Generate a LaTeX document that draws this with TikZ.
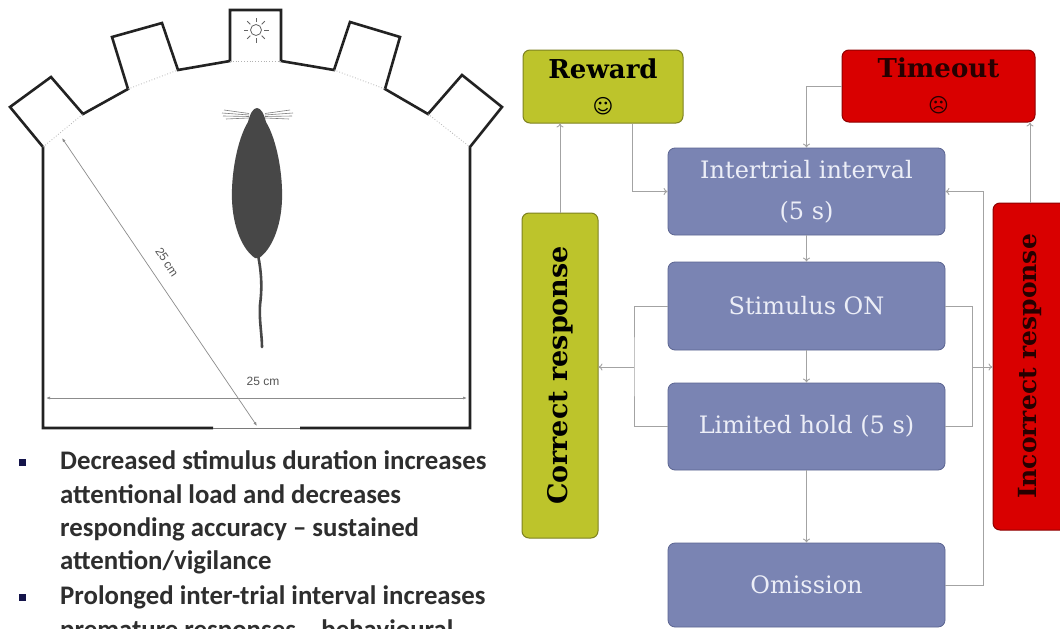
\documentclass[tikz,border=0pt]{standalone}
\usepackage{fontspec}
\usepackage{graphicx}
\usetikzlibrary{arrows.meta,calc}
\newfontfamily\boxfont{DejaVu Serif}
\newfontfamily\bulletfont{Carlito}
\newfontfamily\dimfont{Liberation Sans}
\newfontfamily\symfont{DejaVu Sans}

\definecolor{chamber}{HTML}{222222}
\definecolor{dimgray}{HTML}{8C8C8C}
\definecolor{dimtext}{HTML}{555555}
\definecolor{mousegray}{HTML}{474747}
\definecolor{olive}{HTML}{BDC42B}
\definecolor{olivedark}{HTML}{7E8220}
\definecolor{alarm}{HTML}{D90000}
\definecolor{alarmdark}{HTML}{8F0000}
\definecolor{slate}{HTML}{7A84B3}
\definecolor{slatedark}{HTML}{5C6591}
\definecolor{boxtext}{HTML}{ECEEF7}
\definecolor{flow}{HTML}{A3A3A3}
\definecolor{bullettext}{HTML}{2E2E2E}
\definecolor{bulletmark}{HTML}{14144A}

\begin{document}
\begin{tikzpicture}[x=1pt,y=-1pt,
  wall/.style={draw=chamber,line width=2.6pt,line join=miter},
  portedge/.style={draw=chamber!35,line width=0.8pt,dotted},
  dimline/.style={draw=dimgray,line width=0.7pt,{Latex[length=4pt,width=3pt]}-{Latex[length=4pt,width=3pt]}},
  dimlabel/.style={font=\dimfont\fontsize{12}{14}\selectfont,text=dimtext,fill=white,inner sep=1.5pt},
  stage/.style={draw=slatedark,fill=slate,rounded corners=7pt,line width=0.8pt,
    text=boxtext,font=\boxfont\fontsize{24}{41}\selectfont,align=center,
    minimum width=277pt,inner sep=0pt},
  goodbox/.style={draw=olivedark,fill=olive,rounded corners=7pt,line width=1pt,
    text=black,align=center,inner sep=0pt},
  badbox/.style={draw=alarmdark,fill=alarm,rounded corners=7pt,line width=1pt,
    text=black!85!red,align=center,inner sep=0pt},
  flowline/.style={draw=flow,line width=0.9pt},
  flowarrow/.style={flowline,-{To[length=4pt,width=7pt]}},
  bulletline/.style={anchor=base west,inner sep=0pt,text=bullettext,
    font=\bulletfont\bfseries\fontsize{26.8}{33}\selectfont},
  bulletsquare/.style={fill=bulletmark,minimum size=7pt,inner sep=0pt}
]
\useasboundingbox (0,0) rectangle (1060,629);
\fill[white] (0,0) rectangle (1060,629);
\clip (0,0) rectangle (1060,629);

% ---------- operant chamber with five apertures ----------
\draw[wall] (213,428) -- (43,428) -- (43,147) -- (10,107) -- (51,77) -- (83,114)
  -- (128,89) -- (112,37) -- (162,23) -- (178,70) -- (230,61) -- (230,10)
  -- (281,10) -- (281,61) -- (334,70) -- (350,22) -- (400,37) -- (385,89)
  -- (428,114) -- (462,75) -- (502,107) -- (470,147) -- (470,428) -- (300,428);
\draw[draw=chamber!60,line width=1pt] (213,428) -- (300,428);
\draw[portedge] (43,147) -- (83,114);
\draw[portedge] (128,89) -- (178,70);
\draw[portedge] (230,61) -- (281,61);
\draw[portedge] (334,70) -- (385,89);
\draw[portedge] (428,114) -- (470,147);

% lit aperture
\draw[chamber!70,line width=0.8pt] (256,30) circle (5.5pt);
\foreach \a in {0,45,...,315}
  \draw[chamber!70,line width=0.8pt] ($(256,30)+(\a:8)$) -- ($(256,30)+(\a:12.5)$);

% rat seen from above
\fill[mousegray] (257,108) .. controls (261,108) and (264,114) .. (266,122)
  .. controls (277,140) and (283,175) .. (282,200)
  .. controls (281,228) and (271,250) .. (259,258) -- (255,258)
  .. controls (243,250) and (233,228) .. (232,200)
  .. controls (231,175) and (237,140) .. (248,122)
  .. controls (250,114) and (253,108) .. (257,108) -- cycle;
\draw[mousegray,line width=2.6pt,line cap=round] (258,255)
  .. controls (262,275) and (262,290) .. (260,305)
  .. controls (259,320) and (262,335) .. (262,347);
\foreach \dy/\ex in {-3/224,0/222,3/223,6/226}
  \draw[mousegray!70,line width=0.6pt] (249,115+\dy/2) -- (\ex,113+\dy);
\foreach \dy/\ex in {-3/290,0/293,3/292,6/289}
  \draw[mousegray!70,line width=0.6pt] (265,115+\dy/2) -- (\ex,113+\dy);

% dimensions
\coordinate (dA) at (62,138);
\coordinate (dB) at (257,426);
\draw[dimline] (dA) -- (dB);
\node[dimlabel,rotate=-56] (diaglabel) at (167,262) {25\,cm};
\coordinate (wA) at (46,398);
\coordinate (wB) at (467,398);
\draw[dimline] (wA) -- (wB);
\node[dimlabel,fill=none] (widthlabel) at (263,381) {25 cm};

% ---------- notes ----------
\node[bulletsquare] (b1) at (22,462) {};
\node[bulletline] (t1) at (60,469) {Decreased stimulus duration increases};
\node[bulletline] (t2) at (60,503) {attentional load and decreases};
\node[bulletline] (t3) at (60,536) {responding accuracy – sustained};
\node[bulletline] (t4) at (60,569) {attention/vigilance};
\node[bulletsquare] (b2) at (22,597) {};
\node[bulletline] (t5) at (60,604) {Prolonged inter-trial interval increases};
\node[bulletline] (t6) at (60,638) {premature responses – behavioural};

% ---------- trial flow ----------
\node[stage,minimum height=87pt] (iti) at (806.5,191.5) {Intertrial interval\\(5 s)};
\node[stage,minimum height=88pt] (stim) at (806.5,306) {Stimulus ON};
\node[stage,minimum height=87pt] (hold) at (806.5,426.5) {Limited hold (5 s)};
\node[stage,minimum height=84pt] (omis) at (806.5,585) {Omission};

\node[goodbox,minimum width=160pt,minimum height=73pt,
  font=\boxfont\bfseries\fontsize{26}{35}\selectfont] (reward) at (603,86.5)
  {Reward\\{\symfont\fontsize{20}{20}\selectfont ☺}};
\node[badbox,minimum width=193pt,minimum height=72pt,
  font=\boxfont\bfseries\fontsize{26}{35}\selectfont] (timeout) at (938.5,86)
  {Timeout\\{\symfont\fontsize{20}{20}\selectfont ☹}};
\node[goodbox,minimum width=76pt,minimum height=325pt,
  font=\boxfont\bfseries\fontsize{27}{30}\selectfont] (correct) at (560,375.5)
  {\rotatebox{90}{Correct response}};
\node[badbox,minimum width=74pt,minimum height=327pt,
  font=\boxfont\bfseries\fontsize{25}{30}\selectfont] (incorrect) at (1030,366.5)
  {\rotatebox{90}{Incorrect response}};

\draw[flowarrow] (iti.south) -- (stim.north);
\draw[flowarrow] (stim.south) -- (hold.north);
\draw[flowarrow] (hold.south) -- (omis.north);

\draw[flowarrow] (correct.north) -- (correct.north |- reward.south);
\draw[flowarrow] ([xshift=29pt]reward.south) |- (iti.west);
\draw[flowarrow] (timeout.west) -| (iti.north);
\draw[flowarrow] (incorrect.north) -- (incorrect.north |- timeout.south);

\coordinate (lb) at (634,367);
\draw[flowline] (stim.west) -| (lb) |- (hold.west);
\draw[flowarrow] (lb) -- (lb -| correct.east);
\coordinate (rb) at (972,367);
\draw[flowline] (stim.east) -| (rb) |- (hold.east);
\draw[flowarrow] (rb) -- (rb -| incorrect.west);

\coordinate (ret) at (983,0);
\draw[flowarrow] (omis.east) -| (ret |- iti.east) -- (iti.east);
\end{tikzpicture}
\end{document}
